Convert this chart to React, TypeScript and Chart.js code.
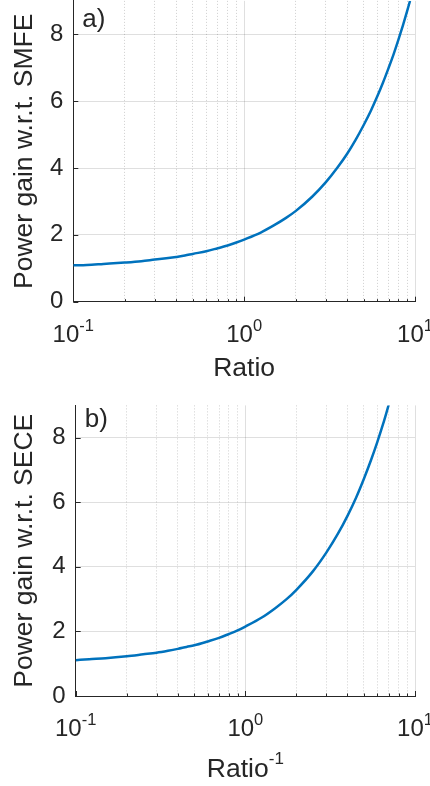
import { useEffect, useRef } from "react";
import { Chart, registerables } from "chart.js";

Chart.register(...registerables);

// Panel a: gain against SMFE as a function of the ratio
const ratioA = [0.1, 0.12, 0.15, 0.2, 0.25, 0.3, 0.35, 0.4, 0.45, 0.5, 0.6, 0.7, 0.8, 0.9, 1, 1.25, 1.5, 1.75, 2, 2.5, 3, 3.5, 4, 4.5, 5, 5.5, 6, 6.5, 7, 7.5, 8, 8.5, 9, 9.35];
const gainA = [1.09, 1.1, 1.13, 1.17, 1.21, 1.26, 1.3, 1.34, 1.38, 1.43, 1.51, 1.6, 1.68, 1.77, 1.86, 2.07, 2.29, 2.5, 2.71, 3.14, 3.57, 4.0, 4.42, 4.85, 5.28, 5.7, 6.13, 6.56, 6.99, 7.41, 7.84, 8.27, 8.7, 9.0];

// Panel b: gain against SECE as a function of the inverse ratio
const ratioInvB = [0.1, 0.12, 0.15, 0.2, 0.25, 0.3, 0.35, 0.4, 0.45, 0.5, 0.6, 0.7, 0.8, 0.9, 1, 1.25, 1.5, 1.75, 2, 2.5, 3, 3.5, 4, 4.5, 5, 5.5, 6, 6.5, 7];
const gainB = [1.11, 1.14, 1.17, 1.23, 1.29, 1.34, 1.4, 1.46, 1.52, 1.57, 1.69, 1.8, 1.92, 2.03, 2.15, 2.43, 2.72, 3.0, 3.29, 3.86, 4.44, 5.01, 5.58, 6.15, 6.73, 7.3, 7.87, 8.44, 9.02];

// Axis ticks
const xGridValues = [0.1, 0.2, 0.3, 0.4, 0.5, 0.6, 0.7, 0.8, 0.9, 1, 2, 3, 4, 5, 6, 7, 8, 9, 10];
const xMajorValues = [0.1, 1, 10];
const xMajorExponents = ["-1", "0", "1"];
const yTickValues = [0, 2, 4, 6, 8];
const yMin = 0;
const yMax = 9;

const AXIS_COLOR = "#262626";
const LINE_COLOR = "#0072BD";
const FONT = '"Liberation Sans", Arial, Helvetica, sans-serif';

function drawPower(
  ctx: CanvasRenderingContext2D,
  base: string,
  exp: string,
  cx: number,
  baseline: number,
  size: number,
  expSize: number,
  raise: number
) {
  ctx.font = `${size}px ${FONT}`;
  const bw = ctx.measureText(base).width;
  ctx.font = `${expSize}px ${FONT}`;
  const ew = exp ? ctx.measureText(exp).width : 0;
  const x0 = cx - (bw + ew) / 2;
  ctx.textAlign = "left";
  ctx.textBaseline = "alphabetic";
  ctx.font = `${size}px ${FONT}`;
  ctx.fillText(base, x0, baseline);
  if (exp) {
    ctx.font = `${expSize}px ${FONT}`;
    ctx.fillText(exp, x0 + bw, baseline - raise);
  }
}

type PanelProps = {
  top: number;
  height: number;
  xs: number[];
  ys: number[];
  tag: string;
  yTitle: string;
  xTitle: string;
  xTitleExp: string;
  axisLeft: number;
  axisHeight: number;
  padTop: number;
  tagBaseline: number;
  xTitleDrop: number;
};

function Panel(p: PanelProps) {
  const ref = useRef<HTMLCanvasElement>(null);

  useEffect(() => {
    if (!ref.current) return;
    const isMajor = (v: number) => xMajorValues.includes(v);

    const decor = {
      id: "decor",
      afterDraw(chart: any) {
        const { ctx, chartArea: a, scales } = chart;
        const x = scales.x;
        const y = scales.y;
        ctx.save();
        // inward tick marks
        ctx.strokeStyle = AXIS_COLOR;
        ctx.lineWidth = 1;
        ctx.beginPath();
        for (const v of xGridValues) {
          const px = Math.round(x.getPixelForValue(v)) + 0.5;
          const len = isMajor(v) ? 5 : 2.5;
          ctx.moveTo(px, a.bottom);
          ctx.lineTo(px, a.bottom - len);
        }
        for (const v of yTickValues) {
          const py = Math.round(y.getPixelForValue(v)) + 0.5;
          ctx.moveTo(a.left, py);
          ctx.lineTo(a.left + 5, py);
        }
        ctx.stroke();

        ctx.fillStyle = AXIS_COLOR;
        // x tick labels as powers of ten
        xMajorValues.forEach((v, i) => {
          drawPower(ctx, "10", xMajorExponents[i], x.getPixelForValue(v), a.bottom + 40, 24, 16.5, 11);
        });
        // x title
        drawPower(ctx, p.xTitle, p.xTitleExp, (a.left + a.right) / 2, a.bottom + p.xTitleDrop, 26.5, 17, 13);
        // y title
        ctx.save();
        ctx.translate(31.5, (a.top + a.bottom) / 2);
        ctx.rotate(-Math.PI / 2);
        ctx.font = `26.5px ${FONT}`;
        ctx.textAlign = "center";
        ctx.textBaseline = "alphabetic";
        ctx.fillText(p.yTitle, 0, 0);
        ctx.restore();
        // panel tag
        ctx.font = `26px ${FONT}`;
        ctx.textAlign = "left";
        ctx.textBaseline = "alphabetic";
        ctx.fillText(p.tag, a.left + 9, p.tagBaseline);
        ctx.restore();
      },
    };

    const chart = new Chart(ref.current, {
      type: "line",
      data: {
        datasets: [
          {
            data: p.xs.map((v, i) => ({ x: v, y: p.ys[i] })),
            borderColor: LINE_COLOR,
            borderWidth: 2.5,
            pointRadius: 0,
            fill: false,
            cubicInterpolationMode: "monotone",
          },
        ],
      },
      options: {
        animation: false,
        responsive: true,
        maintainAspectRatio: false,
        devicePixelRatio: 1,
        layout: { padding: { top: p.padTop, right: 15, left: 0, bottom: 0 } },
        plugins: { legend: { display: false }, tooltip: { enabled: false }, title: { display: false } },
        events: [],
        scales: {
          x: {
            type: "logarithmic",
            min: 0.1,
            max: 10,
            afterBuildTicks: (s: any) => {
              s.ticks = xGridValues.map((v) => ({ value: v, major: isMajor(v) }));
            },
            afterFit: (s: any) => {
              s.height = p.axisHeight;
              s.paddingLeft = 0;
              s.paddingRight = 0;
            },
            ticks: { display: false, autoSkip: false },
            grid: {
              drawTicks: false,
              lineWidth: 1,
              color: (c: any) =>
                c.tick && !isMajor(c.tick.value) ? "rgba(38,38,38,0.22)" : "rgba(38,38,38,0.15)",
            },
            border: {
              display: true,
              color: AXIS_COLOR,
              width: 1,
              dash: (c: any) => (c.tick && !isMajor(c.tick.value) ? [1, 2] : []),
            },
          },
          y: {
            type: "linear",
            min: yMin,
            max: yMax,
            afterFit: (s: any) => {
              s.width = p.axisLeft;
              s.paddingTop = 0;
              s.paddingBottom = 0;
            },
            ticks: {
              stepSize: 2,
              includeBounds: false,
              padding: 10,
              color: AXIS_COLOR,
              font: { family: FONT, size: 24 },
            },
            grid: { drawTicks: false, lineWidth: 1, color: "rgba(38,38,38,0.15)" },
            border: { display: true, color: AXIS_COLOR, width: 1 },
          },
        },
      },
      plugins: [decor],
    } as any);

    return () => chart.destroy();
  }, []);

  return (
    <div style={{ position: "absolute", left: 0, top: p.top, width: 430, height: p.height }}>
      <canvas ref={ref} />
    </div>
  );
}

export default function App() {
  return (
    <div style={{ position: "fixed", left: 0, top: 0, width: 430, height: 786, background: "#ffffff" }}>
      <Panel
        top={0}
        height={390}
        xs={ratioA}
        ys={gainA}
        tag="a)"
        yTitle="Power gain w.r.t. SMFE"
        xTitle="Ratio"
        xTitleExp=""
        axisLeft={73.3}
        axisHeight={88.3}
        padTop={0.9}
        tagBaseline={27}
        xTitleDrop={74.3}
      />
      <Panel
        top={390}
        height={396}
        xs={ratioInvB}
        ys={gainB}
        tag="b)"
        yTitle="Power gain w.r.t. SECE"
        xTitle="Ratio"
        xTitleExp="-1"
        axisLeft={75.7}
        axisHeight={90}
        padTop={15.4}
        tagBaseline={37}
        xTitleDrop={81.3}
      />
    </div>
  );
}
